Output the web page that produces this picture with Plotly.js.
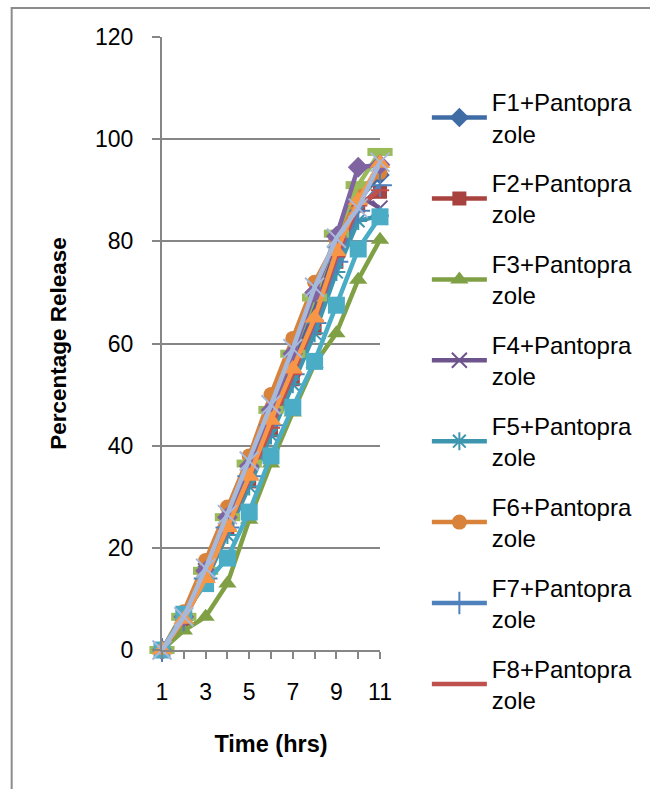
<!DOCTYPE html>
<html>
<head>
<meta charset="utf-8">
<script src="https://cdn.plot.ly/plotly-3.0.1.min.js"></script>
<style>
html,body{margin:0;padding:0;background:#fff;}
#chart{width:650px;height:789px;}
</style>
</head>
<body>
<div id="chart"></div>
<script>
// Categories (time, hrs)
var time = [1, 2, 3, 4, 5, 6, 7, 8, 9, 10, 11];
var xTickVals = [1, 2, 3, 4, 5, 6, 7, 8, 9, 10, 11];
var xTickText = ['1', '', '3', '', '5', '', '7', '', '9', '', '11'];
var yTickVals = [0, 20, 40, 60, 80, 100, 120];

// Series names
var names = [
  'F1+Pantopra<br>zole', 'F2+Pantopra<br>zole', 'F3+Pantopra<br>zole', 'F4+Pantopra<br>zole',
  'F5+Pantopra<br>zole', 'F6+Pantopra<br>zole', 'F7+Pantopra<br>zole', 'F8+Pantopra<br>zole',
  'F9+Pantopra<br>zole', 'F10+Pantopra<br>zole', 'F11+Pantopra<br>zole', 'F12+Pantopra<br>zole',
  'F13+Pantopra<br>zole'
];

// Percentage release values
var F1  = [0, 6.5, 16, 26, 36, 47, 57, 68, 79, 88, 93];
var F2  = [0, 6, 14.5, 24, 33, 43, 53, 63, 76, 87, 89.7];
var F3  = [0, 3.8, 6.5, 13, 25.5, 36.5, 46.5, 56, 62, 72.5, 80.3];
var F4  = [0, 6.5, 15.5, 25, 35, 45.5, 55, 66, 79, 89, 86.5];
var F5  = [0, 7, 13.5, 22.5, 32, 42, 52, 62, 74, 84, 85];
var F6  = [0, 7.5, 17.5, 28, 38, 50, 61, 72, 80, 89, 93.5];
var F7  = [0, 6, 14, 24, 34, 44, 54, 64, 76, 86, 91];
var F8  = [0, 6, 14, 23.5, 33.5, 43.5, 54, 64.5, 77, 87, 90];
var F9  = [0, 6.5, 15.5, 26, 36.5, 47, 58, 69, 81.5, 91, 97.5];
var F10 = [0, 6.5, 15.5, 26, 36, 47, 58, 70, 81, 94.5, 95];
var F11 = [0, 7, 13, 18, 27, 38, 47.5, 56.5, 67.5, 78.5, 84.8];
var F12 = [0, 6, 14, 24, 34, 45, 55, 65, 78, 88, 95.3];
var F13 = [0, 6.5, 16, 26.5, 37, 48, 59, 71, 80.6, 86.5, 95.5];

var seriesValues = [F1, F2, F3, F4, F5, F6, F7, F8, F9, F10, F11, F12, F13];

// Styles
var colors = ['#3F6CA5', '#A8423F', '#80A046', '#6E548D', '#3D96AE', '#D8823A',
              '#4F81BD', '#C0504D', '#9BBB59', '#8064A2', '#4BACC6', '#F79646', '#A7B9DB'];
var symbols = ['diamond', 'square', 'triangle-up', 'x-thin-open', 'asterisk-open', 'circle',
               'cross-thin-open', 'line-ew-open', 'line-ew-open', 'diamond', 'square', 'triangle-up', 'x-thin-open'];
var sizes = [15, 14, 16, 15, 15, 15, 17, 13, 18, 16, 17, 18, 19];
var inLegend = [true, true, true, true, true, true, true, true, false, false, false, false, false];

var traces = seriesValues.map(function (vals, i) {
  var open = symbols[i].indexOf('open') >= 0;
  return {
    type: 'scatter',
    mode: 'lines+markers',
    x: time,
    y: vals,
    name: names[i],
    legendgroup: 'g' + i,
    showlegend: inLegend[i],
    cliponaxis: false,
    line: {color: colors[i], width: 4.5},
    marker: {
      symbol: symbols[i],
      size: sizes[i],
      color: colors[i],
      line: {color: colors[i], width: open ? (i === 8 ? 8 : 2) : 0}
    }
  };
});

var gray = '#868686';
var font = 'Liberation Sans, Arial, sans-serif';

var layout = {
  width: 650,
  height: 789,
  margin: {l: 161.7, r: 268.3, t: 37, b: 139, pad: 0},
  paper_bgcolor: '#ffffff',
  plot_bgcolor: '#ffffff',
  showlegend: true,
  font: {family: font, color: '#000000'},
  xaxis: {
    range: [1, 11],
    tickmode: 'array',
    tickvals: xTickVals,
    ticktext: xTickText,
    ticks: 'outside',
    ticklen: 7,
    tickwidth: 2,
    tickcolor: gray,
    showline: true,
    linecolor: gray,
    linewidth: 2,
    showgrid: false,
    zeroline: false,
    tickfont: {size: 23, family: font, color: '#000'},
    ticklabelstandoff: 13,
    title: {text: 'Time (hrs)', font: {size: 23.5, family: font, color: '#000', weight: 'bold'}, standoff: 32}
  },
  yaxis: {
    range: [0, 120],
    tickmode: 'array',
    tickvals: yTickVals,
    ticks: 'outside',
    ticklen: 8,
    tickwidth: 2,
    tickcolor: gray,
    showline: true,
    linecolor: gray,
    linewidth: 2,
    showgrid: true,
    gridcolor: gray,
    gridwidth: 2,
    zeroline: false,
    tickfont: {size: 23, family: font, color: '#000'},
    ticklabelstandoff: 14,
    title: {text: 'Percentage Release', font: {size: 22.5, family: font, color: '#000', weight: 'bold'}, standoff: 22}
  },
  legend: {
    x: 1.215,
    xanchor: 'left',
    y: 0.93,
    yanchor: 'top',
    maxheight: 720,
    traceorder: 'grouped',
    tracegroupgap: 15.5,
    itemwidth: 55,
    font: {size: 24, family: font, color: '#000'},
    bgcolor: 'rgba(0,0,0,0)',
    borderwidth: 0
  },
  shapes: [{
    type: 'rect',
    xref: 'paper', yref: 'paper',
    x0: (10 - 161.7) / 220, x1: (700 - 161.7) / 220,
    y0: (650 - 840) / 613, y1: (650 - 8) / 613,
    line: {color: '#8C8C8C', width: 2},
    fillcolor: 'rgba(0,0,0,0)',
    layer: 'below'
  }]
};

Plotly.newPlot('chart', traces, layout, {displayModeBar: false, staticPlot: true});
</script>
</body>
</html>
